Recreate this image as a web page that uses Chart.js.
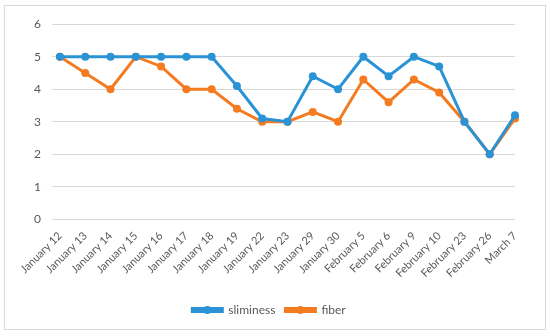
<!DOCTYPE html>
<html>
<head>
<meta charset="utf-8">
<script src="https://cdn.jsdelivr.net/npm/chart.js@4.4.0/dist/chart.umd.min.js"></script>
<style>
  body { margin: 0; background: #fff; }
  #wrap { position: absolute; left: 4px; top: 5px; width: 540px; height: 323px; border: 1px solid #d9d9d9; }
</style>
</head>
<body>
<div id="wrap"><canvas id="c"></canvas></div>
<script>
const dates = ['January 12', 'January 13', 'January 14', 'January 15', 'January 16', 'January 17', 'January 18', 'January 19', 'January 22', 'January 23', 'January 29', 'January 30', 'February 5', 'February 6', 'February 9', 'February 10', 'February 23', 'February 26', 'March 7'];
const sliminess = [5, 5, 5, 5, 5, 5, 5, 4.1, 3.1, 3, 4.4, 4, 5, 4.4, 5, 4.7, 3, 2, 3.2];
const fiber = [5, 4.5, 4, 5, 4.7, 4, 4, 3.4, 3, 3, 3.3, 3, 4.3, 3.6, 4.3, 3.9, 3, 2, 3.1];

const blue = '#2a93d5';
const orange = '#f47b20';
const grey = '#595959';

// circle markers on the legend lines, Excel style
const legendDots = {
    id: 'legendDots',
    afterDraw(chart) {
        const lg = chart.legend;
        if (!lg || !lg.legendHitBoxes) return;
        const ctx = chart.ctx;
        lg.legendHitBoxes.forEach((box, i) => {
            const col = chart.data.datasets[i].borderColor;
            ctx.save();
            ctx.fillStyle = col;
            ctx.beginPath();
            ctx.arc(box.left + 15, box.top + box.height / 2, 4, 0, Math.PI * 2);
            ctx.fill();
            ctx.restore();
        });
    }
};

new Chart(document.getElementById('c'), {
    type: 'line',
    data: {
        labels: dates,
        datasets: [
            { label: 'sliminess', data: sliminess, borderColor: blue, backgroundColor: blue, borderWidth: 3, pointRadius: 4, pointBackgroundColor: blue, pointBorderWidth: 0, tension: 0 },
            { label: 'fiber', data: fiber, borderColor: orange, backgroundColor: orange, borderWidth: 3, pointRadius: 4, pointBackgroundColor: orange, pointBorderWidth: 0, tension: 0 }
        ]
    },
    options: {
        responsive: true,
        maintainAspectRatio: false,
        animation: false,
        layout: { padding: { left: 18, right: 30, top: 4, bottom: 3 } },
        plugins: {
            legend: {
                position: 'bottom',
                labels: { color: grey, font: { family: 'Lato', size: 12 }, boxWidth: 30, boxHeight: 3, padding: 10 }
            },
            tooltip: { enabled: false }
        },
        scales: {
            x: {
                grid: { display: false },
                border: { display: false },
                ticks: { color: grey, font: { family: 'Lato', size: 11 }, minRotation: 45, maxRotation: 45, autoSkip: false, padding: 2 },
                afterFit: (scale) => { scale.height += 12; }
            },
            y: {
                min: 0, max: 6,
                grid: { color: '#d9d9d9', lineWidth: 1 },
                border: { display: false },
                ticks: { stepSize: 1, color: grey, font: { family: 'Lato', size: 12 }, padding: 11 }
            }
        }
    },
    plugins: [legendDots]
});
</script>
</body>
</html>
